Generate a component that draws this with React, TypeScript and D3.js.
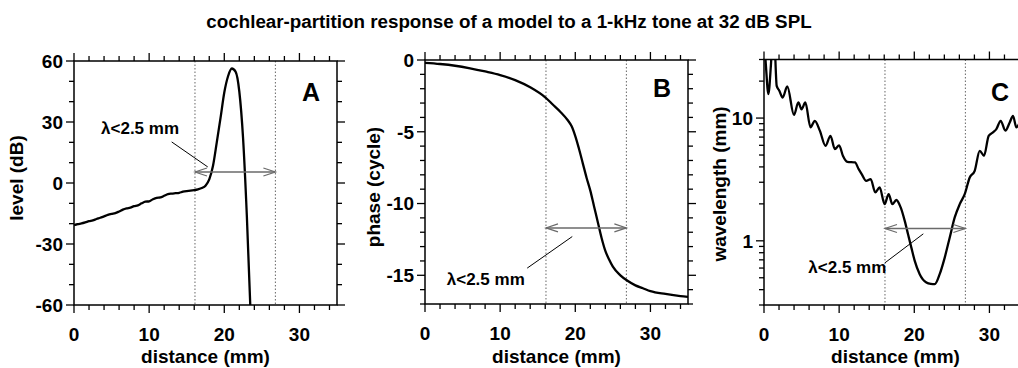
import React from "react";
import * as d3 from "d3";

const TITLE = "cochlear-partition response of a model to a 1-kHz tone at 32 dB SPL";
const X_LABEL = "distance (mm)";
const BAND_NOTE = "λ<2.5 mm";

const distMajor = [0, 10, 20, 30];
const distMinor = [2, 4, 6, 8, 12, 14, 16, 18, 22, 24, 26, 28, 32, 34];
const bandEdges = [16.1, 26.8];

// Panel A: level (dB)
const levelDist = [0, 0.5, 1, 1.5, 2, 2.5, 3, 3.5, 4, 4.5, 5, 5.5, 6, 6.5, 7, 7.5, 8, 8.5, 9, 9.5, 10, 10.5, 11, 11.5, 12, 12.5, 13, 13.5, 14, 14.5, 15, 15.5, 16, 16.5, 17, 17.5, 18, 18.5, 19, 19.5, 20, 20.5, 21, 21.5, 22, 22.5, 23, 23.5];
const levelDb = [-20.7, -20.2, -19.9, -19.4, -18.8, -18.4, -17.7, -17.1, -16.4, -15.7, -15.2, -14.8, -14.0, -13.1, -12.5, -12.1, -11.4, -11.0, -10.0, -9.2, -9.0, -8.0, -7.3, -7.1, -6.3, -5.5, -5.2, -5.0, -4.8, -4.3, -4.0, -3.8, -3.5, -3.1, -2.5, -1.3, 1.8, 8.5, 20, 32, 44.5, 52.5, 56.3, 54.8, 45, 22, -16, -64];
const levelMajor = [-60, -30, 0, 30, 60];
const levelMinor = [-50, -40, -20, -10, 10, 20, 40, 50];

// Panel B: phase (cycle)
const phaseDist = [0, 2, 4, 6, 8, 10, 12, 14, 16, 17, 18, 19, 19.5, 20, 20.5, 21, 21.5, 22, 22.5, 23, 23.5, 24, 24.5, 25, 26, 27, 28, 29, 30, 32, 34, 35];
const phaseCyc = [-0.2, -0.28, -0.4, -0.58, -0.8, -1.05, -1.4, -1.9, -2.6, -3.1, -3.6, -4.2, -4.6, -5.3, -6.2, -7.2, -8.2, -9.1, -10.2, -11.3, -12.4, -13.3, -13.9, -14.4, -15.0, -15.4, -15.7, -15.9, -16.1, -16.3, -16.45, -16.5];
const phaseMajor = [0, -5, -10, -15];
const phaseMinor = [-1, -2, -3, -4, -6, -7, -8, -9, -11, -12, -13, -14, -16, -17];

// Panel C: wavelength (mm)
const waveDist = [0, 0.25, 0.58, 0.92, 1.15, 1.35, 1.69, 2.04, 2.48, 3.1, 3.99, 4.57, 5.0, 5.5, 6.19, 6.76, 7.43, 8.18, 8.85, 9.43, 10.0, 10.5, 11.1, 12.1, 12.6, 13.0, 13.6, 14.2, 14.81, 15.39, 16.05, 16.59, 17.08, 17.61, 18.19, 18.72, 19.17, 19.61, 20.05, 20.72, 21.61, 22.2, 22.72, 23.38, 24.05, 24.71, 25.38, 26.05, 26.71, 27.38, 28.04, 28.71, 29.28, 29.9, 30.47, 30.92, 31.5, 32.12, 32.7, 33.14, 33.59, 34.2, 35];
const waveMm = [45, 27, 15.7, 27, 45, 45, 18.3, 16.7, 14.7, 18.1, 10.6, 13.4, 11.8, 13.4, 8.4, 9.5, 7.9, 5.95, 7.17, 5.59, 6.0, 4.93, 4.4, 4.35, 3.84, 3.5, 3.08, 3.18, 2.48, 2.72, 1.99, 2.4, 1.99, 2.15, 1.87, 1.46, 1.13, 0.88, 0.69, 0.535, 0.457, 0.445, 0.443, 0.535, 0.73, 1.06, 1.55, 1.99, 2.4, 3.28, 3.72, 5.41, 4.93, 7.17, 7.64, 8.13, 9.5, 7.9, 9.21, 10.4, 8.4, 9.5, 10];
const waveMajor = [1, 10];
const waveMinor = [0.3, 0.4, 0.5, 0.6, 0.7, 0.8, 0.9, 2, 3, 4, 5, 6, 7, 8, 9, 20, 30];

const FONT = "'Liberation Sans', Arial, Helvetica, sans-serif";

type PanelCfg = {
  id: string;
  letter: string;
  yTitle: string;
  left: number; right: number; top: number; bottom: number;
  y: any;
  xs: number[]; ys: number[];
  yMajor: number[]; yMinor: number[];
  yFmt: (v: number) => string;
  arrowY: number;
  note: [number, number];
  pointer: [number, number, number, number];
  letterPos: [number, number];
  yTitleX: number; yTitleY: number;
  xTitleY: number;
};

function Panel({ c }: { c: PanelCfg }) {
  const x = d3.scaleLinear().domain([0, 35]).range([c.left, c.right]);
  const y = c.y;
  const line = d3.line<number>().x((_, i) => x(c.xs[i])).y((v) => y(v)).curve(d3.curveMonotoneX);
  const maj = 8, mnr = 5;
  const ax1 = x(bandEdges[0]), ax2 = x(bandEdges[1]), ay = y(c.arrowY);
  const ah = 12, aw = 4;
  return (
    <g>
      <defs>
        <clipPath id={"clip" + c.id}>
          <rect x={c.left} y={c.top} width={c.right - c.left} height={c.bottom - c.top} />
        </clipPath>
      </defs>
      {bandEdges.map((b) => (
        <line key={b} x1={x(b)} x2={x(b)} y1={c.top} y2={c.bottom} stroke="#666" strokeWidth={1} strokeDasharray="1.5,2" />
      ))}
      <path d={line(c.ys) || ""} fill="none" stroke="#000" strokeWidth={2.3} clipPath={`url(#clip${c.id})`} />
      <g stroke="#6a6a6a" fill="none" strokeWidth={1.6}>
        <line x1={ax1} x2={ax2} y1={ay} y2={ay} />
        <path d={`M${ax1 + ah},${ay - aw}L${ax1},${ay}L${ax1 + ah},${ay + aw}`} strokeWidth={1.2} />
        <path d={`M${ax2 - ah},${ay - aw}L${ax2},${ay}L${ax2 - ah},${ay + aw}`} strokeWidth={1.2} />
      </g>
      <line x1={x(c.pointer[0])} y1={y(c.pointer[1])} x2={x(c.pointer[2])} y2={y(c.pointer[3])} stroke="#000" strokeWidth={1} />
      <text x={x(c.note[0])} y={y(c.note[1])} fontSize={17} fontWeight="bold" fontFamily={FONT}>{BAND_NOTE}</text>
      <rect x={c.left} y={c.top} width={c.right - c.left} height={c.bottom - c.top} fill="none" stroke="#000" strokeWidth={1.5} />
      <g stroke="#000" strokeWidth={1.3}>
        {distMajor.map((t) => (
          <g key={"xm" + t}>
            <line x1={x(t)} x2={x(t)} y1={c.bottom} y2={c.bottom + maj} />
            <line x1={x(t)} x2={x(t)} y1={c.top} y2={c.top - maj} />
          </g>
        ))}
        {distMinor.map((t) => (
          <g key={"xn" + t}>
            <line x1={x(t)} x2={x(t)} y1={c.bottom} y2={c.bottom + mnr} />
            <line x1={x(t)} x2={x(t)} y1={c.top} y2={c.top - mnr} />
          </g>
        ))}
        {c.yMajor.map((t) => (
          <g key={"ym" + t}>
            <line x1={c.left} x2={c.left - maj} y1={y(t)} y2={y(t)} />
            <line x1={c.right} x2={c.right + maj} y1={y(t)} y2={y(t)} />
          </g>
        ))}
        {c.yMinor.map((t) => (
          <g key={"yn" + t}>
            <line x1={c.left} x2={c.left - mnr} y1={y(t)} y2={y(t)} />
            <line x1={c.right} x2={c.right + mnr} y1={y(t)} y2={y(t)} />
          </g>
        ))}
      </g>
      <g fontFamily={FONT} fontWeight="bold" fontSize={19} fill="#000">
        {distMajor.map((t) => (
          <text key={"xl" + t} x={x(t)} y={c.bottom + 36} textAnchor="middle">{t}</text>
        ))}
        {c.yMajor.map((t) => (
          <text key={"yl" + t} x={c.left - 11} y={y(t)} dy="0.36em" textAnchor="end">{c.yFmt(t)}</text>
        ))}
        <text x={(c.left + c.right) / 2} y={c.xTitleY} textAnchor="middle">{X_LABEL}</text>
        <text transform={`translate(${c.yTitleX},${c.yTitleY}) rotate(-90)`} textAnchor="middle">{c.yTitle}</text>
        <text x={c.letterPos[0]} y={c.letterPos[1]} fontSize={25} textAnchor="middle" dy="0.36em">{c.letter}</text>
      </g>
    </g>
  );
}

export default function App() {
  const panels: PanelCfg[] = [
    {
      id: "A", letter: "A", yTitle: "level (dB)",
      left: 74, right: 337, top: 61, bottom: 305,
      y: d3.scaleLinear().domain([-60, 60]).range([305, 61]),
      xs: levelDist, ys: levelDb, yMajor: levelMajor, yMinor: levelMinor,
      yFmt: (v) => String(v),
      arrowY: 5.4, note: [3.6, 24.1], pointer: [13.0, 20.2, 17.8, 7.9],
      letterPos: [311, 92], yTitleX: 23, yTitleY: 178, xTitleY: 363,
    },
    {
      id: "B", letter: "B", yTitle: "phase (cycle)",
      left: 425, right: 688, top: 60, bottom: 304,
      y: d3.scaleLinear().domain([-17, 0]).range([304, 60]),
      xs: phaseDist, ys: phaseCyc, yMajor: phaseMajor, yMinor: phaseMinor,
      yFmt: (v) => String(v),
      arrowY: -11.7, note: [2.9, -15.7], pointer: [13.6, -14.5, 19.6, -12.3],
      letterPos: [662, 88], yTitleX: 380, yTitleY: 187, xTitleY: 363,
    },
    {
      id: "C", letter: "C", yTitle: "wavelength (mm)",
      left: 764, right: 1027, top: 59.5, bottom: 305,
      y: d3.scaleLog().domain([0.3, 30]).range([305, 59.5]),
      xs: waveDist, ys: waveMm, yMajor: waveMajor, yMinor: waveMinor,
      yFmt: (v) => String(v),
      arrowY: 1.26, note: [5.9, 0.55], pointer: [16.1, 0.662, 21.2, 1.14],
      letterPos: [1000, 92], yTitleX: 726, yTitleY: 184, xTitleY: 363,
    },
  ];
  return (
    <svg width={1018} height={368} style={{ position: "absolute", left: 0, top: 0, background: "#fff" }}>
      <rect width={1018} height={368} fill="#fff" />
      <text x={509} y={28} textAnchor="middle" fontFamily={FONT} fontWeight="bold" fontSize={18.8}>{TITLE}</text>
      {panels.map((p) => <Panel key={p.id} c={p} />)}
    </svg>
  );
}
